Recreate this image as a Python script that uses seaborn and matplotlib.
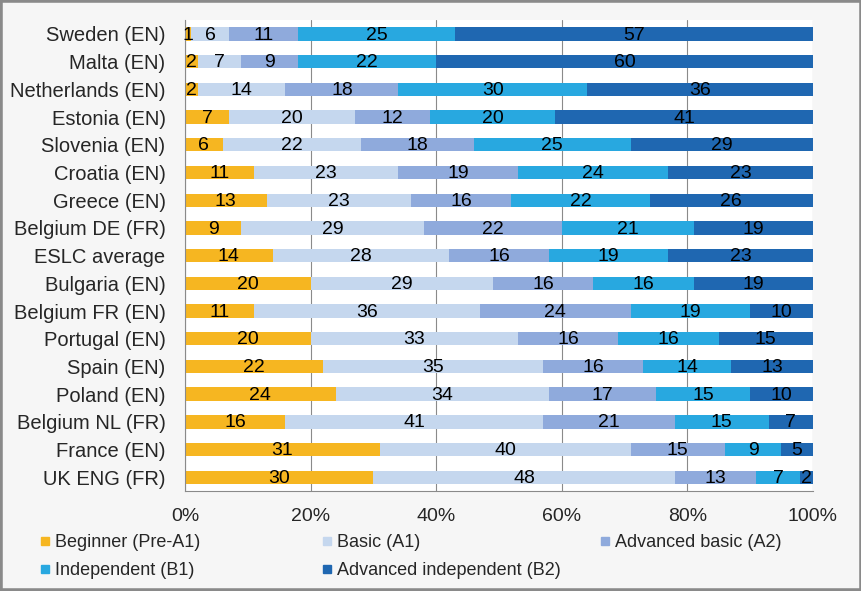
import pandas as pd
import numpy as np
import matplotlib
matplotlib.use("Agg")
import matplotlib.pyplot as plt
import seaborn as sns
from matplotlib.lines import Line2D
from matplotlib.patches import Rectangle

# data (percent of pupils per level)
countries = ["Sweden (EN)", "Malta (EN)", "Netherlands (EN)", "Estonia (EN)",
             "Slovenia (EN)", "Croatia (EN)", "Greece (EN)", "Belgium DE (FR)",
             "ESLC average", "Bulgaria (EN)", "Belgium FR (EN)", "Portugal (EN)",
             "Spain (EN)", "Poland (EN)", "Belgium NL (FR)", "France (EN)",
             "UK ENG (FR)"]
levels = ["Beginner (Pre-A1)", "Basic (A1)", "Advanced basic (A2)",
          "Independent (B1)", "Advanced independent (B2)"]
beginner = [1, 2, 2, 7, 6, 11, 13, 9, 14, 20, 11, 20, 22, 24, 16, 31, 30]
basic = [6, 7, 14, 20, 22, 23, 23, 29, 28, 29, 36, 33, 35, 34, 41, 40, 48]
adv_basic = [11, 9, 18, 12, 18, 19, 16, 22, 16, 16, 24, 16, 16, 17, 21, 15, 13]
independent = [25, 22, 30, 20, 25, 24, 22, 21, 19, 16, 19, 16, 14, 15, 15, 9, 7]
adv_indep = [57, 60, 36, 41, 29, 23, 26, 19, 23, 19, 10, 15, 13, 10, 7, 5, 2]
colors = ["#F6B621", "#C5D7EE", "#8FAADC", "#28A8E0", "#1F67B1"]

series = [beginner, basic, adv_basic, independent, adv_indep]
vals = np.array(series, dtype=float)
cum = vals.cumsum(axis=0)

rows = []
for i, lev in enumerate(levels):
    for j, c in enumerate(countries):
        rows.append({"country": c, "level": lev, "value": vals[i, j],
                     "cum": cum[i, j], "mid": cum[i, j] - vals[i, j] / 2})
df = pd.DataFrame(rows)

sns.set_style("white")
plt.rcParams["font.family"] = ["Liberation Sans", "DejaVu Sans"]

fig, ax = plt.subplots(figsize=(8.62, 5.91), dpi=100)
fig.patch.set_facecolor("#f6f6f6")
ax.set_facecolor("white")
fig.subplots_adjust(left=0.2146, right=0.943, top=0.966, bottom=0.169)

# stacked bars: draw cumulative totals from the last level back to the first
for lev, col in reversed(list(zip(levels, colors))):
    sub = df[df["level"] == lev]
    sns.barplot(data=sub, x="cum", y="country", order=countries, color=col,
                orient="h", width=0.48, errorbar=None, linewidth=0,
                saturation=1, ax=ax)

# value labels in the middle of each segment
for _, r in df.iterrows():
    ax.text(r["mid"], countries.index(r["country"]) + 0.04, f"{int(r['value'])}",
            ha="center", va="center", fontsize=14, color="black")

ax.set_xlim(0, 100)
ax.set_xticks(np.arange(0, 101, 20))
ax.set_xticklabels([f"{t}%" for t in range(0, 101, 20)])
ax.set_xlabel("")
ax.set_ylabel("")
ax.grid(axis="x", color="#8a8a8a", linewidth=0.8)
ax.set_axisbelow(True)
for s in ["top", "right"]:
    ax.spines[s].set_visible(False)
for s in ["left", "bottom"]:
    ax.spines[s].set_color("#8a8a8a")
    ax.spines[s].set_linewidth(0.8)

ax.tick_params(axis="x", length=4, width=0.8, color="#8a8a8a", pad=8, labelsize=14)
ax.tick_params(axis="y", which="major", length=0, pad=14, labelsize=14.5)
ax.set_yticks(np.arange(len(countries) + 1) - 0.5, minor=True)
ax.tick_params(axis="y", which="minor", length=4, width=0.8, color="#8a8a8a")

# legend laid out like the original: three columns at fixed positions
handles = [Line2D([], [], marker="s", linestyle="none", markersize=6,
                  color=c, label=l) for c, l in zip(colors, levels)]
cols = [([handles[0], handles[3]], 40), ([handles[1], handles[4]], 322),
        ([handles[2]], 600)]
for hs, xpx in cols:
    fig.legend(handles=hs, loc="upper left", bbox_to_anchor=(xpx / 862, 1 - 534 / 591),
               frameon=False, fontsize=13, handlelength=0.6, handletextpad=0.25,
               borderpad=0, borderaxespad=0, labelspacing=0.6)

fig.add_artist(Rectangle((0, 0), 1, 1, transform=fig.transFigure, fill=False,
                         edgecolor="#8a8a8a", linewidth=4))

plt.savefig("out.png", dpi=100, facecolor=fig.get_facecolor())
plt.close()
